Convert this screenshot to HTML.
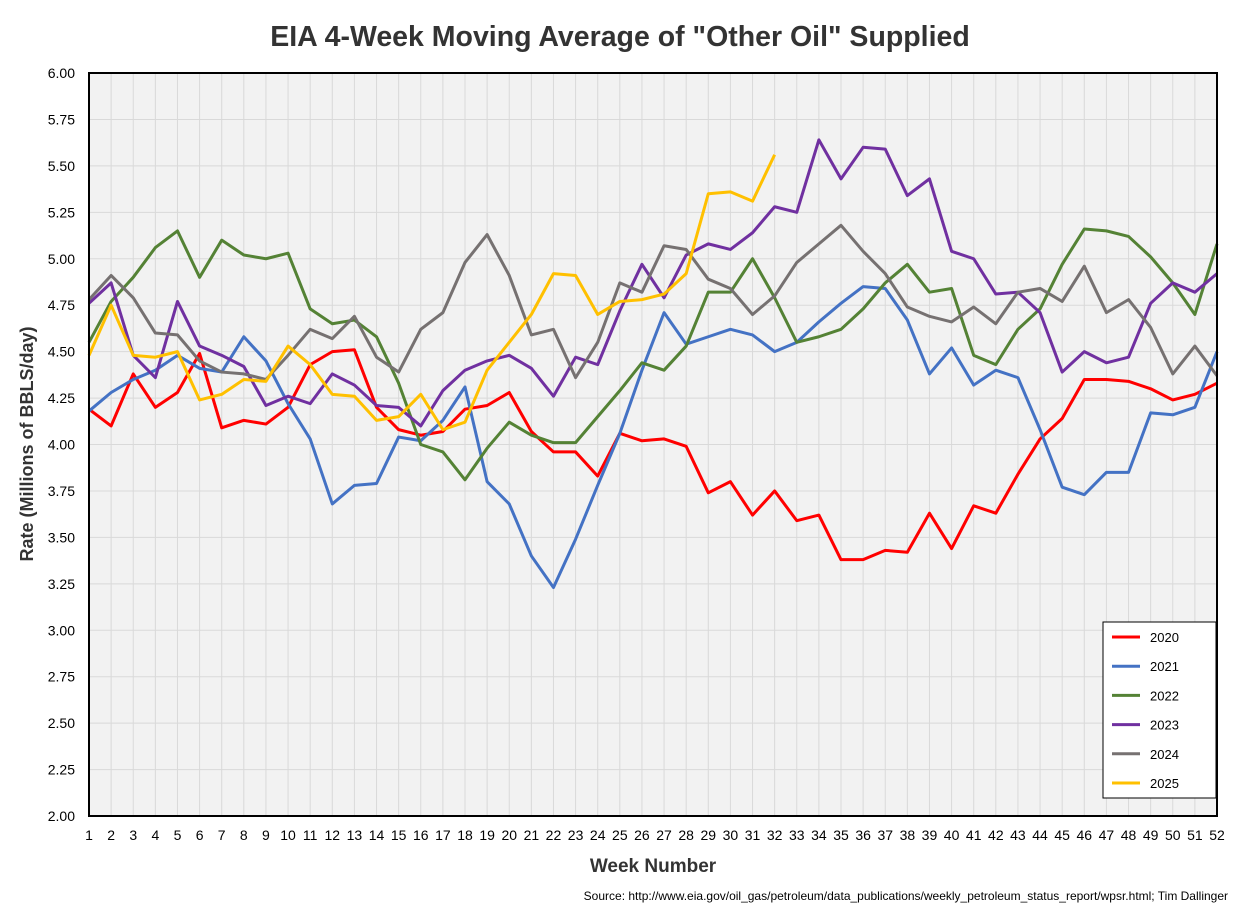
<!DOCTYPE html>
<html><head><meta charset="utf-8"><style>
body{margin:0;background:#fff;font-family:"Liberation Sans",Arial,sans-serif;}
</style></head><body>
<svg width="1238" height="907" xmlns="http://www.w3.org/2000/svg" id="chart" font-family="Liberation Sans, Arial, sans-serif">
<text x="620" y="46" text-anchor="middle" font-size="28.5" font-weight="bold" fill="#333">EIA 4-Week Moving Average of "Other Oil" Supplied</text>
<rect x="89" y="73" width="1128" height="743" fill="#f2f2f2"/>
<g id="grid"></g>
<g id="series"></g>
<rect x="89" y="73" width="1128" height="743" fill="none" stroke="#000" stroke-width="2"/>
<g id="yt"></g><g id="xt"></g>
<text transform="translate(33,444) rotate(-90)" text-anchor="middle" font-size="18" font-weight="bold" fill="#333">Rate (Millions of BBLS/day)</text>
<text x="653" y="872" text-anchor="middle" font-size="19" font-weight="bold" fill="#333">Week Number</text>
<text x="1228" y="900" text-anchor="end" font-size="12" fill="#000">Source: http://www.eia.gov/oil_gas/petroleum/data_publications/weekly_petroleum_status_report/wpsr.html; Tim Dallinger</text>
<rect x="1103" y="622" width="113" height="176" fill="#fff" stroke="#000" stroke-width="1"/>
<g id="leg"></g>
</svg>
<script>
const weeks = Array.from({length:52},(_,i)=>i+1);
const yTicks = [2.00,2.25,2.50,2.75,3.00,3.25,3.50,3.75,4.00,4.25,4.50,4.75,5.00,5.25,5.50,5.75,6.00];
const seriesNames = ["2020","2021","2022","2023","2024","2025"];
const seriesColors = ["#ff0000","#4472c4","#548235","#7030a0","#767171","#ffc000"];
const s2020 = [4.19,4.10,4.38,4.20,4.28,4.49,4.09,4.13,4.11,4.20,4.43,4.50,4.51,4.20,4.08,4.05,4.07,4.19,4.21,4.28,4.07,3.96,3.96,3.83,4.06,4.02,4.03,3.99,3.74,3.80,3.62,3.75,3.59,3.62,3.38,3.38,3.43,3.42,3.63,3.44,3.67,3.63,3.84,4.03,4.14,4.35,4.35,4.34,4.30,4.24,4.27,4.33];
const s2021 = [4.18,4.28,4.35,4.40,4.48,4.41,4.39,4.58,4.45,4.22,4.03,3.68,3.78,3.79,4.04,4.02,4.13,4.31,3.80,3.68,3.40,3.23,3.49,3.78,4.06,4.40,4.71,4.54,4.58,4.62,4.59,4.50,4.55,4.66,4.76,4.85,4.84,4.67,4.38,4.52,4.32,4.40,4.36,4.08,3.77,3.73,3.85,3.85,4.17,4.16,4.20,4.50];
const s2022 = [4.55,4.77,4.90,5.06,5.15,4.90,5.10,5.02,5.00,5.03,4.73,4.65,4.67,4.58,4.33,4.00,3.96,3.81,3.98,4.12,4.05,4.01,4.01,4.15,4.29,4.44,4.40,4.53,4.82,4.82,5.00,4.79,4.55,4.58,4.62,4.73,4.87,4.97,4.82,4.84,4.48,4.43,4.62,4.73,4.97,5.16,5.15,5.12,5.01,4.87,4.70,5.08];
const s2023 = [4.76,4.87,4.48,4.36,4.77,4.53,4.48,4.42,4.21,4.26,4.22,4.38,4.32,4.21,4.20,4.10,4.29,4.40,4.45,4.48,4.41,4.26,4.47,4.43,4.72,4.97,4.79,5.02,5.08,5.05,5.14,5.28,5.25,5.64,5.43,5.60,5.59,5.34,5.43,5.04,5.00,4.81,4.82,4.71,4.39,4.50,4.44,4.47,4.76,4.87,4.82,4.92];
const s2024 = [4.78,4.91,4.79,4.60,4.59,4.45,4.39,4.38,4.35,4.48,4.62,4.57,4.69,4.47,4.39,4.62,4.71,4.98,5.13,4.91,4.59,4.62,4.36,4.55,4.87,4.82,5.07,5.05,4.89,4.84,4.70,4.80,4.98,5.08,5.18,5.04,4.92,4.74,4.69,4.66,4.74,4.65,4.82,4.84,4.77,4.96,4.71,4.78,4.63,4.38,4.53,4.37];
const s2025 = [4.48,4.75,4.48,4.47,4.50,4.24,4.27,4.35,4.34,4.53,4.43,4.27,4.26,4.13,4.15,4.27,4.08,4.12,4.40,4.55,4.70,4.92,4.91,4.70,4.77,4.78,4.81,4.92,5.35,5.36,5.31,5.56];
const allSeries=[s2020,s2021,s2022,s2023,s2024,s2025];
const NS="http://www.w3.org/2000/svg";
const X0=89,X1=1217,Y0=816,Y1=73;
const xs=w=>X0+(w-1)*(X1-X0)/51;
const ys=v=>Y0-(v-2)*(Y0-Y1)/4;
function mk(t,a,p){const e=document.createElementNS(NS,t);for(const k in a)e.setAttribute(k,a[k]);p.appendChild(e);return e;}
const grid=document.getElementById('grid'),yt=document.getElementById('yt'),xt=document.getElementById('xt');
yTicks.forEach(v=>{
 const l=mk('line',{x1:X0,x2:X1,y1:ys(v),y2:ys(v),stroke:'#d9d9d9','stroke-width':1},grid);
 
 
 const t=mk('text',{x:75,y:ys(v)+5,'text-anchor':'end','font-size':14,fill:'#000'},yt);
 t.textContent=v.toFixed(2);
 
 
});
weeks.forEach(w=>{
 const l=mk('line',{x1:xs(w),x2:xs(w),y1:Y1,y2:Y0,stroke:'#d9d9d9','stroke-width':1},grid);
 
 
 const t=mk('text',{x:xs(w),y:840,'text-anchor':'middle','font-size':14,fill:'#000'},xt);
 t.textContent=w;
 
 
});
const sg=document.getElementById('series'),lg=document.getElementById('leg');
allSeries.forEach((s,i)=>{
 const p=mk('polyline',{points:s.map((v,j)=>xs(weeks[j])+','+ys(v)).join(' '),fill:'none',stroke:seriesColors[i],'stroke-width':3,'stroke-linejoin':'round'},sg);
 
 
 const y=637+i*29.2;
 const g=mk('g',{},lg);
 
 
 mk('line',{x1:1112,x2:1140,y1:y,y2:y,stroke:seriesColors[i],'stroke-width':3},g);
 const t=mk('text',{x:1150,y:y+5,'font-size':13,fill:'#000'},g);
 t.textContent=seriesNames[i];
});
</script>
</body></html>
